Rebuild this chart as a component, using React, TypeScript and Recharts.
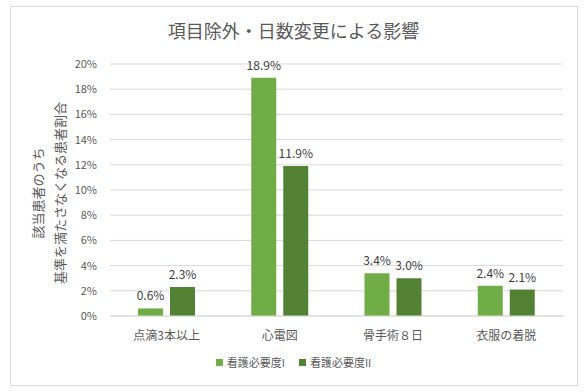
import { BarChart, Bar, XAxis, YAxis, CartesianGrid, LabelList, Legend } from "recharts"

const categories = ["点滴3本以上", "心電図", "骨手術８日", "衣服の着脱"]
const nursingI = [0.6, 18.9, 3.4, 2.4]
const nursingII = [2.3, 11.9, 3.0, 2.1]
const yTicks = [0, 2, 4, 6, 8, 10, 12, 14, 16, 18, 20]

const seriesNames = ["看護必要度I", "看護必要度II"]
const seriesColors = ["#70AD47", "#548235"]

const data = categories.map((name, i) => ({
  name,
  a: nursingI[i],
  b: nursingII[i],
}))

const FONT = "'Noto Sans CJK JP', 'Noto Sans', sans-serif"

function YLabel({ viewBox }: { viewBox?: { x: number; y: number; width: number; height: number } }) {
  if (!viewBox) return null
  const cy = viewBox.y + viewBox.height / 2 + 3
  const cx = 49
  return (
    <text
      x={cx}
      y={cy}
      transform={`rotate(-90, ${cx}, ${cy})`}
      textAnchor="middle"
      fill="#595959"
      style={{ fill: "#595959" }}
      fontSize={13}
      fontFamily={FONT}
    >
      <tspan x={cx} dy={-6}>該当患者のうち</tspan>
      <tspan x={cx} dy={22}>基準を満たさなくなる患者割合</tspan>
    </text>
  )
}

function CustomLegend() {
  return (
    <div style={{ display: "flex", justifyContent: "center", gap: 14, fontSize: 11, color: "#595959", fontFamily: FONT }}>
      {seriesNames.map((n, i) => (
        <span key={n} style={{ display: "inline-flex", alignItems: "center", gap: 4 }}>
          <span style={{ display: "inline-block", width: 7, height: 7, background: seriesColors[i] }} />
          {n}
        </span>
      ))}
    </div>
  )
}

const fmt = (v: number) => `${v.toFixed(1)}%`

export default function App() {
  return (
    <div style={{ position: "absolute", left: 0, top: 0, width: 586, height: 392, background: "#fff" }}>
      <div
        style={{
          position: "absolute",
          left: 10,
          top: 6,
          width: 566,
          height: 378,
          border: "1px solid #d9d9d9",
        }}
      />
      <div
        style={{
          position: "absolute",
          left: 10,
          top: 17,
          width: 567,
          textAlign: "center",
          fontSize: 18,
          color: "#595959",
          fontFamily: FONT,
        }}
      >
        項目除外・日数変更による影響
      </div>
      <BarChart
        width={586}
        height={392}
        data={data}
        margin={{ top: 64, right: 23, bottom: 46, left: 0 }}
        barGap={7}
        barSize={25}
        style={{ position: "absolute", left: 0, top: 0 }}
      >
        <CartesianGrid vertical={false} stroke="#d9d9d9" />
        <XAxis
          dataKey="name"
          height={30}
          tickLine={false}
          axisLine={{ stroke: "#d9d9d9" }}
          tick={{ fill: "#595959", fontSize: 12, fontFamily: FONT }}
          tickMargin={9}
        />
        <YAxis
          width={110}
          domain={[0, 20]}
          ticks={yTicks}
          interval={0}
          tickFormatter={(v: number) => `${v}%`}
          axisLine={false}
          tickLine={false}
          tickSize={0}
          tickMargin={13}
          tick={{ fill: "#595959", fontSize: 11, fontFamily: FONT }}
          label={<YLabel />}
        />
        <Legend
          layout="horizontal"
          verticalAlign="middle"
          align="center"
          content={<CustomLegend />}
          wrapperStyle={{ top: 354, left: 10, width: 567 }}
        />
        <Bar dataKey="a" name={seriesNames[0]} fill={seriesColors[0]} isAnimationActive={false}>
          <LabelList dataKey="a" position="top" offset={8} formatter={fmt} fill="#404040" fontSize={12} fontFamily={FONT} />
        </Bar>
        <Bar dataKey="b" name={seriesNames[1]} fill={seriesColors[1]} isAnimationActive={false}>
          <LabelList dataKey="b" position="top" offset={8} formatter={fmt} fill="#404040" fontSize={12} fontFamily={FONT} />
        </Bar>
      </BarChart>
    </div>
  )
}
